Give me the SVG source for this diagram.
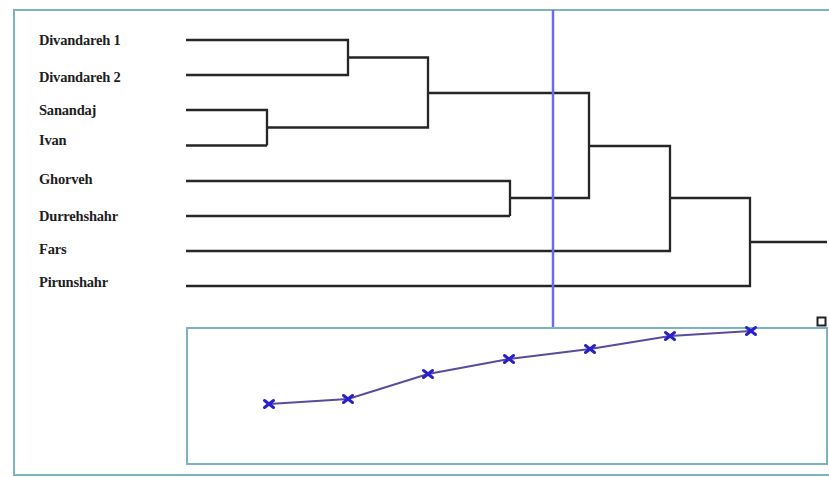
<svg xmlns="http://www.w3.org/2000/svg" width="829" height="477" viewBox="0 0 829 477">
<style>
.frame{fill:none;stroke:#7db2bf;stroke-width:2}
.tree{fill:none;stroke:#262626;stroke-width:2.3}
.lbl{font-family:"Liberation Serif","Times New Roman",serif;font-weight:bold;font-size:14.5px;fill:#1e1e1e;letter-spacing:-0.2px}
.cut{stroke:#6b6bf0;stroke-width:2.5}
.curve{fill:none;stroke:#5a4c9c;stroke-width:2}
.mk{stroke:#2a22c8;stroke-width:3;stroke-linecap:round}
</style>
<defs>
<g id="x"><line class="mk" x1="-4.5" y1="-3.5" x2="4.5" y2="3.5"/><line class="mk" x1="-4.5" y1="3.5" x2="4.5" y2="-3.5"/></g>
</defs>
<rect width="829" height="477" fill="#ffffff"/>
<rect class="frame" x="14" y="10" width="830" height="465"/>
<g id="labels">
<g id="n-divandareh1"><text class="lbl" x="39" y="45">Divandareh 1</text></g>
<g id="n-divandareh2"><text class="lbl" x="39" y="82">Divandareh 2</text></g>
<g id="n-sanandaj"><text class="lbl" x="39" y="115">Sanandaj</text></g>
<g id="n-ivan"><text class="lbl" x="39" y="145">Ivan</text></g>
<g id="n-ghorveh"><text class="lbl" x="39" y="184">Ghorveh</text></g>
<g id="n-durrehshahr"><text class="lbl" x="39" y="221">Durrehshahr</text></g>
<g id="n-fars"><text class="lbl" x="39" y="254">Fars</text></g>
<g id="n-pirunshahr"><text class="lbl" x="39" y="287">Pirunshahr</text></g>
</g>
<g id="connectors">
<path class="tree" d="M186 40H348V75H186M348 57.5H428V127.5H267V110H186M267 145.5H186M267 127.5V145.5"/>
<path class="tree" d="M428 93H589V198H510V181H186M510 216H186M510 198V216"/>
<path class="tree" d="M589 146H670V251H186M670 198H750V286H186M750 242H827"/>
</g>
<line class="cut" x1="553" y1="10" x2="553" y2="328"/>
<rect class="frame" x="187" y="328" width="640" height="136"/>
<rect x="817.5" y="317.5" width="8" height="8" fill="#ffffff" stroke="#222" stroke-width="2"/>
<g id="curve">
<polyline class="curve" points="269,404 348,399 428,374 509,359 590,349 670,336 751,331"/>
<use href="#x" x="269" y="404"/>
<use href="#x" x="348" y="399"/>
<use href="#x" x="428" y="374"/>
<use href="#x" x="509" y="359"/>
<use href="#x" x="590" y="349"/>
<use href="#x" x="670" y="336"/>
<use href="#x" x="751" y="331"/>
</g>
</svg>
